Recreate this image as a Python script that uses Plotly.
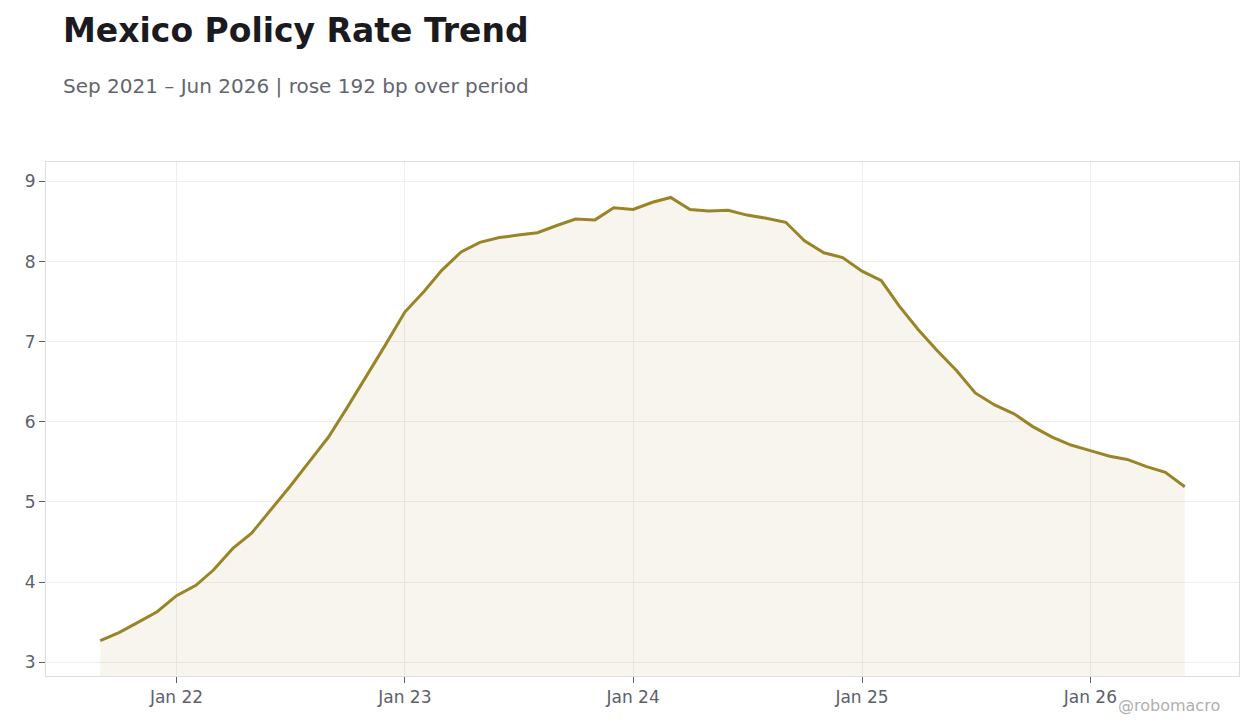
import plotly.graph_objects as go
import pandas as pd

months = pd.date_range("2021-09-01", "2026-06-01", freq="MS")
rate = [3.27, 3.37, 3.50, 3.63, 3.83, 3.96, 4.15, 4.42, 4.61, 4.90,
        5.19, 5.50, 5.81, 6.18, 6.57, 6.96, 7.37, 7.63, 7.89, 8.12,
        8.24, 8.30, 8.33, 8.36, 8.45, 8.53, 8.52, 8.67, 8.65, 8.74,
        8.80, 8.65, 8.63, 8.64, 8.58, 8.54, 8.49, 8.26, 8.11, 8.05,
        7.88, 7.76, 7.45, 7.15, 6.89, 6.64, 6.36, 6.21, 6.10, 5.94,
        5.81, 5.71, 5.64, 5.57, 5.53, 5.44, 5.37, 5.19]

title_text = "Mexico Policy Rate Trend"
subtitle_text = "Sep 2021 – Jun 2026 | rose 192 bp over period"
credit_text = "@robomacro"

LINE = "#9a8428"
FONT = "DejaVu Sans"

fig = go.Figure()
fig.add_trace(go.Scatter(
    x=months, y=rate, mode="lines",
    line=dict(color=LINE, width=3),
    fill="tozeroy", fillcolor="rgba(154,132,40,0.08)",
    showlegend=False,
))

ymin, ymax = min(rate), max(rate)
pad = (ymax - ymin) * 0.08
span = months[-1] - months[0]
xpad = span * 0.05

fig.update_layout(
    width=1260, height=728,
    margin=dict(l=38, r=29, t=154, b=60),
    paper_bgcolor="white", plot_bgcolor="white",
    font=dict(family=FONT, size=17, color="#5c606b"),
    xaxis=dict(
        type="date",
        range=[months[0] - xpad, months[-1] + xpad],
        tick0="2022-01-01", dtick="M12", tickformat="%b %y",
        showgrid=True, gridcolor="#eeeeee", gridwidth=1,
        ticks="outside", ticklen=6, tickcolor="#5c606b",
        showline=True, linecolor="#dddddd", linewidth=1, mirror=True,
        zeroline=False,
        tickfont=dict(size=17, color="#5c606b"),
    ),
    yaxis=dict(
        range=[ymin - pad, ymax + pad],
        dtick=1,
        showgrid=True, gridcolor="#eeeeee", gridwidth=1,
        ticks="outside", ticklen=6, tickcolor="#5c606b",
        showline=True, linecolor="#dddddd", linewidth=1, mirror=True,
        zeroline=False,
        tickfont=dict(size=17, color="#5c606b"),
    ),
    annotations=[
        dict(text=f"<b>{title_text}</b>", xref="paper", yref="paper",
             x=(61 - 46) / 1193, y=(676 - 30) / 514, xanchor="left", yanchor="middle",
             showarrow=False, font=dict(family=FONT, size=33, color="#1a1a1f")),
        dict(text=subtitle_text, xref="paper", yref="paper",
             x=(61 - 46) / 1193, y=(676 - 86) / 514, xanchor="left", yanchor="middle",
             showarrow=False, font=dict(family=FONT, size=20, color="#62656f")),
        dict(text=credit_text, xref="paper", yref="paper",
             x=(1222 - 46) / 1193, y=(676 - 705) / 514, xanchor="right", yanchor="middle",
             showarrow=False, font=dict(family=FONT, size=16, color="#b0b0b0")),
    ],
)

fig.write_html("out.html")
